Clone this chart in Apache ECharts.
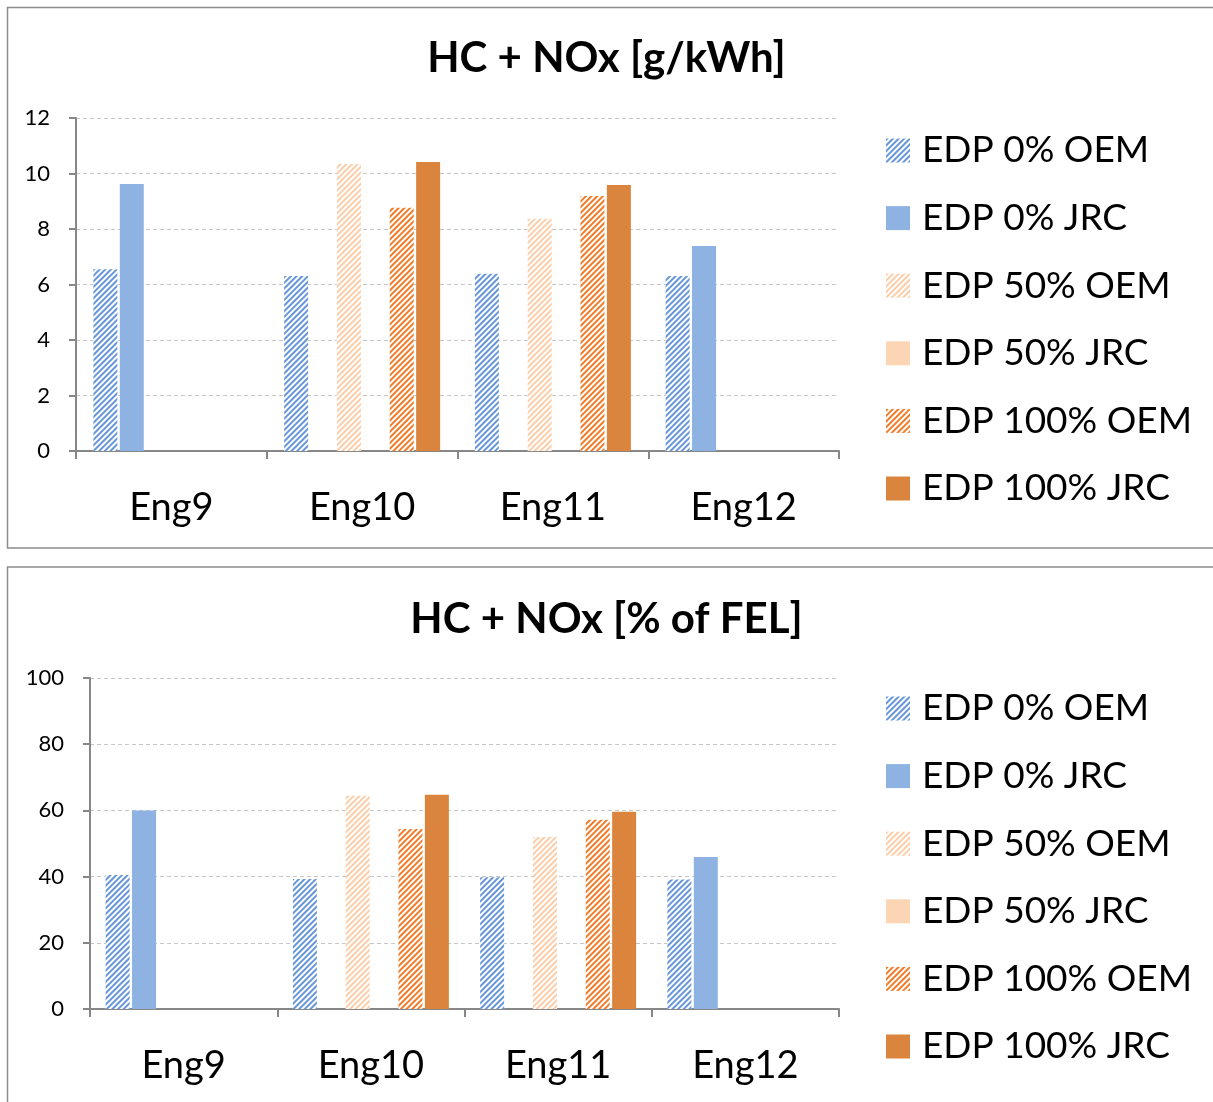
<!DOCTYPE html>
<html>
<head>
<meta charset="utf-8">
<title>HC + NOx</title>
<script src="https://cdn.jsdelivr.net/npm/echarts@6/dist/echarts.min.js"></script>
<style>
  html, body { margin: 0; padding: 0; background: #fff; }
  #chart { width: 1213px; height: 1102px; }
</style>
</head>
<body>
<div id="chart"></div>
<script>
// Engines on the category axis
const engines = ['Eng9', 'Eng10', 'Eng11', 'Eng12'];

// Series names (legend order)
const seriesNames = ['EDP 0% OEM', 'EDP 0% JRC', 'EDP 50% OEM', 'EDP 50% JRC', 'EDP 100% OEM', 'EDP 100% JRC'];

// HC + NOx in g/kWh, per engine (null = not tested)
const gkwh_edp0_oem   = [6.55, 6.31, 6.39, 6.31];
const gkwh_edp0_jrc   = [9.62, null, null, 7.39];
const gkwh_edp50_oem  = [null, 10.34, 8.37, null];
const gkwh_edp50_jrc  = [null, null, null, null];
const gkwh_edp100_oem = [null, 8.77, 9.19, null];
const gkwh_edp100_jrc = [null, 10.41, 9.59, null];

// HC + NOx as % of FEL, per engine
const fel_edp0_oem   = [40.5, 39.3, 39.8, 39.1];
const fel_edp0_jrc   = [60.0, null, null, 45.9];
const fel_edp50_oem  = [null, 64.4, 52.0, null];
const fel_edp50_jrc  = [null, null, null, null];
const fel_edp100_oem = [null, 54.4, 57.2, null];
const fel_edp100_jrc = [null, 64.7, 59.6, null];

// Value axis tick settings
const gkwhAxis = { min: 0, max: 12, interval: 2 };
const felAxis  = { min: 0, max: 100, interval: 20 };

// Diagonal "/" hatch for the OEM series, drawn as an ECharts decal over a white bar
function hatchDecal(lineColor) {
  return {
    symbol: 'rect', symbolSize: 1,
    dashArrayX: [1, 0], dashArrayY: [1.5, 1.5],
    rotation: -Math.PI / 4,
    color: lineColor
  };
}

// Hatch line colours (OEM) and solid fills (JRC)
const lineColors  = ['#6696d8', null, '#fbcda8', null, '#f07c2a', null];
const solidColors = ['#ffffff', '#8eb3e2', '#ffffff', '#fcd5b4', '#ffffff', '#db843d'];

const gkwhData = [gkwh_edp0_oem, gkwh_edp0_jrc, gkwh_edp50_oem, gkwh_edp50_jrc, gkwh_edp100_oem, gkwh_edp100_jrc];
const felData  = [fel_edp0_oem, fel_edp0_jrc, fel_edp50_oem, fel_edp50_jrc, fel_edp100_oem, fel_edp100_jrc];

const FONT = 'Lato, "Open Sans", sans-serif';
const AXIS_GREY = '#878787';

function xAxisFor(gridIndex) {
  return {
    type: 'category', gridIndex, data: engines,
    axisLine: { lineStyle: { color: AXIS_GREY, width: 2 } },
    axisTick: { show: true, length: 8, lineStyle: { color: AXIS_GREY, width: 2 } },
    axisLabel: { color: '#000', fontFamily: FONT, fontSize: 38, margin: 38 },
    splitLine: { show: false }
  };
}
function yAxisFor(gridIndex, cfg) {
  return {
    type: 'value', gridIndex, min: cfg.min, max: cfg.max, interval: cfg.interval,
    axisLine: { show: true, lineStyle: { color: AXIS_GREY, width: 2 } },
    axisTick: { show: true, length: 7, lineStyle: { color: AXIS_GREY, width: 2 } },
    axisLabel: { color: '#000', fontFamily: FONT, fontSize: 22, margin: 26 },
    splitLine: { show: true, lineStyle: { color: '#c6c6c6', type: [4, 3], width: 1 } }
  };
}
function barSeries(datasets, gridIndex) {
  return datasets.map((vals, i) => {
    const style = { color: solidColors[i] };
    if (lineColors[i]) style.decal = hatchDecal(lineColors[i]);
    return {
      name: seriesNames[i],
      type: 'bar',
      xAxisIndex: gridIndex, yAxisIndex: gridIndex,
      data: vals.map(v => (v === null ? '-' : v)),
      barWidth: 24,
      barGap: '10%',
      itemStyle: style,
      emphasis: { disabled: true }
    };
  });
}
function legendAt(top) {
  return {
    data: seriesNames,
    orient: 'vertical',
    left: 886, top,
    padding: 0,
    icon: 'rect',
    itemWidth: 24, itemHeight: 24,
    itemGap: 30.6,
    selectedMode: false,
    textStyle: { color: '#000', fontFamily: FONT, fontSize: 37, lineHeight: 36, padding: [0, 0, 0, 7] }
  };
}

const titleStyle = { fontFamily: FONT, fontWeight: 'bold', fontSize: 42, color: '#000' };

const chart = echarts.init(document.getElementById('chart'), null, { renderer: 'canvas' });
chart.setOption({
  animation: false,
  backgroundColor: '#fff',
  title: [
    { text: 'HC + NOx [g/kWh]', left: 'center', top: 37, padding: 0, textStyle: titleStyle },
    { text: 'HC + NOx [% of FEL]', left: 'center', top: 598, padding: 0, textStyle: titleStyle }
  ],
  legend: [legendAt(132), legendAt(690)],
  grid: [
    { left: 76, right: 374, top: 118, height: 333 },
    { left: 90, right: 374, top: 678, height: 331 }
  ],
  xAxis: [xAxisFor(0), xAxisFor(1)],
  yAxis: [yAxisFor(0, gkwhAxis), yAxisFor(1, felAxis)],
  series: barSeries(gkwhData, 0).concat(barSeries(felData, 1)),
  graphic: [
    { type: 'rect', silent: true, shape: { x: 7.5, y: 7.5, width: 1230, height: 540.5 },
      style: { fill: 'none', stroke: '#8c8c8c', lineWidth: 1.5 } },
    { type: 'rect', silent: true, shape: { x: 7.5, y: 567, width: 1230, height: 560 },
      style: { fill: 'none', stroke: '#8c8c8c', lineWidth: 1.5 } }
  ]
});
</script>
</body>
</html>
